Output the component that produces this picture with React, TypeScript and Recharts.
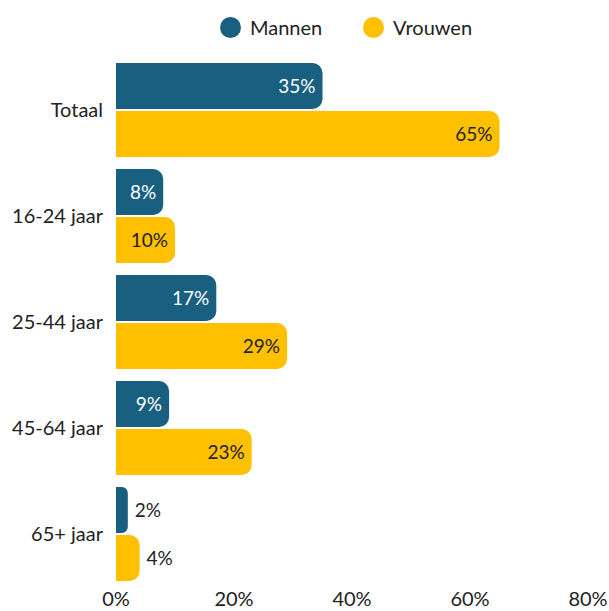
import React from "react";
import { BarChart, Bar, XAxis, YAxis, Legend, LabelList } from "recharts";

const categories = ["Totaal", "16-24 jaar", "25-44 jaar", "45-64 jaar", "65+ jaar"];
const mannen = [35, 8, 17, 9, 2];
const vrouwen = [65, 10, 29, 23, 4];
const xTicks = [0, 20, 40, 60, 80];

const BLUE = "#185f80";
const YELLOW = "#ffc000";
const TEXT = "#222222";
const FONT = "Lato, 'Open Sans', sans-serif";

const data = categories.map((name, i) => ({
  name,
  mannen: mannen[i],
  vrouwen: vrouwen[i],
}));

function makeLabel(insideColor: string) {
  return (props: any) => {
    const { x, y, width, height, value } = props;
    const inside = value >= 5;
    return (
      <text
        x={inside ? x + width - 7 : x + width + 7}
        y={y + height / 2}
        dy="0.35em"
        textAnchor={inside ? "end" : "start"}
        fill={inside ? insideColor : TEXT}
        fontSize={19}
        fontFamily={FONT}
      >
        {`${value}%`}
      </text>
    );
  };
}

function LegendContent() {
  const item = (color: string, label: string, left: number) => (
    <div
      style={{
        position: "absolute",
        left,
        top: 0,
        display: "flex",
        alignItems: "center",
        height: 24,
      }}
    >
      <span
        style={{
          width: 21,
          height: 21,
          borderRadius: "50%",
          background: color,
          display: "inline-block",
          marginRight: 9,
        }}
      />
      <span style={{ fontSize: 20, color: TEXT, fontFamily: FONT }}>{label}</span>
    </div>
  );
  return (
    <div style={{ position: "relative", width: 609, height: 24 }}>
      {item(BLUE, "Mannen", 220)}
      {item(YELLOW, "Vrouwen", 363)}
    </div>
  );
}

export default function App() {
  return (
    <div
      style={{
        position: "absolute",
        left: 0,
        top: 0,
        width: 609,
        height: 611,
        background: "#fff",
        overflow: "hidden",
      }}
    >
      <BarChart
        width={609}
        height={611}
        data={data}
        layout="vertical"
        margin={{ top: 33, right: 21, bottom: 0, left: 0 }}
        barSize={46}
        barGap={2}
      >
        <Legend
          verticalAlign="top"
          content={() => <LegendContent />}
          wrapperStyle={{ top: 15, left: 0, width: 609 }}
        />
        <XAxis
          type="number"
          domain={[0, 80]}
          ticks={xTicks}
          tickFormatter={(v: number) => `${v}%`}
          axisLine={false}
          tickLine={false}
          height={24}
          tick={{ fontSize: 20, fill: TEXT, fontFamily: FONT }}
          tickMargin={-1}
        />
        <YAxis
          type="category"
          dataKey="name"
          width={116}
          axisLine={false}
          tickLine={false}
          tickMargin={7}
          tick={{ fontSize: 20, fill: TEXT, fontFamily: FONT }}
        />
        <Bar dataKey="mannen" fill={BLUE} radius={[0, 10, 10, 0]} isAnimationActive={false}>
          <LabelList dataKey="mannen" content={makeLabel("#ffffff")} />
        </Bar>
        <Bar dataKey="vrouwen" fill={YELLOW} radius={[0, 10, 10, 0]} isAnimationActive={false}>
          <LabelList dataKey="vrouwen" content={makeLabel(TEXT)} />
        </Bar>
      </BarChart>
    </div>
  );
}
